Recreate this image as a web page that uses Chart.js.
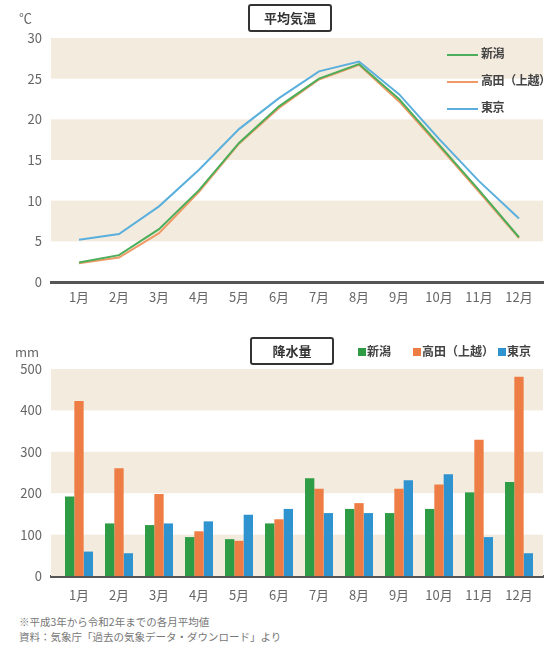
<!DOCTYPE html>
<html lang="ja">
<head>
<meta charset="utf-8">
<script src="https://cdn.jsdelivr.net/npm/chart.js@4/dist/chart.umd.min.js"></script>
<style>
  html, body { margin: 0; padding: 0; background: #fff; }
  body { width: 545px; height: 649px; position: relative; overflow: hidden;
         font-family: "Noto Sans CJK JP", "Noto Sans", sans-serif; color: #555; }
  .abs { position: absolute; }
  #c1 { position: absolute; left: 0; top: 0; }
  #c2 { position: absolute; left: 0; top: 318px; }
  .unit { font-size: 13px; color: #666; }
  .tbox { border: 2px solid #333; border-radius: 3px; box-sizing: border-box;
          width: 84px; height: 28px; line-height: 24px; text-align: center;
          font-size: 13px; font-weight: bold; color: #333; }
  .lg1 { font-size: 12px; font-weight: bold; color: #444; height: 16px; line-height: 16px; white-space: nowrap; letter-spacing: -0.4px; }
  .lg1 .ln { display: inline-block; width: 31px; height: 2px; vertical-align: middle; margin-right: 3px; }
  .lg2 { font-size: 12px; font-weight: bold; color: #444; white-space: nowrap; line-height: 16px; }
  .lg2 .sq { display: inline-block; width: 8px; height: 8px; margin-right: 1px; }
  .fn { font-size: 10.5px; color: #777; white-space: nowrap; }
</style>
</head>
<body>
<canvas id="c1" width="545" height="310"></canvas>
<canvas id="c2" width="545" height="292"></canvas>

<div class="abs unit" style="left:19px; top:8px;">℃</div>
<div class="abs tbox" style="left:248px; top:4px;">平均気温</div>
<div class="abs lg1" style="left:447px; top:45px;"><span class="ln" style="background:#4cae5a"></span>新潟</div>
<div class="abs lg1" style="left:447px; top:72px;"><span class="ln" style="background:#ef9a66"></span>高田（上越）</div>
<div class="abs lg1" style="left:447px; top:99px;"><span class="ln" style="background:#5aafdc"></span>東京</div>

<div class="abs unit" style="left:15px; top:342px;">mm</div>
<div class="abs tbox" style="left:250px; top:337px;">降水量</div>
<div class="abs lg2" style="left:358px; top:343px;"><span class="sq" style="background:#2e9b45"></span>新潟</div>
<div class="abs lg2" style="left:413px; top:343px;"><span class="sq" style="background:#ee7d45"></span>高田（上越）</div>
<div class="abs lg2" style="left:498px; top:343px;"><span class="sq" style="background:#2f93d0"></span>東京</div>

<div class="abs fn" style="left:19px; top:614px;">※平成3年から令和2年までの各月平均値</div>
<div class="abs fn" style="left:19px; top:629px;">資料：気象庁「過去の気象データ・ダウンロード」より</div>

<script>
const months = ["1月","2月","3月","4月","5月","6月","7月","8月","9月","10月","11月","12月"];
const seriesNames = ["新潟", "高田（上越）", "東京"];

const tempNiigata = [2.4, 3.3, 6.5, 11.3, 17.1, 21.6, 25.0, 26.8, 22.5, 16.9, 11.3, 5.5];
const tempTakada  = [2.3, 3.0, 6.0, 11.1, 17.0, 21.4, 24.9, 26.7, 22.2, 16.7, 11.1, 5.4];
const tempTokyo   = [5.2, 5.9, 9.3, 13.8, 18.8, 22.6, 25.9, 27.1, 23.1, 17.6, 12.4, 7.8];

const precNiigata = [192, 127, 123, 94, 89, 127, 236, 162, 152, 162, 202, 227];
const precTakada  = [423, 260, 198, 108, 85, 137, 211, 176, 211, 221, 329, 481];
const precTokyo   = [59, 55, 127, 132, 148, 162, 152, 152, 231, 246, 94, 55];

const tempTicks = [0, 5, 10, 15, 20, 25, 30];
const precTicks = [0, 100, 200, 300, 400, 500];

const FONT = '"Noto Sans CJK JP", "Noto Sans", sans-serif';
const toXY = arr => arr.map((v, i) => ({x: i, y: v}));

function bandPlugin(bands) {
  return {
    id: 'bands',
    beforeDatasetsDraw(chart) {
      const {ctx, chartArea, scales} = chart;
      ctx.save();
      ctx.fillStyle = '#f4ebdf';
      bands.forEach(([a, b]) => {
        const y1 = scales.y.getPixelForValue(b);
        const y0 = scales.y.getPixelForValue(a);
        ctx.fillRect(chartArea.left, y1, chartArea.right - chartArea.left, y0 - y1);
      });
      ctx.restore();
    }
  };
}

function xScale(pad, h) {
  return {
    type: 'linear', min: -0.7, max: 11.6, offset: false,
    afterBuildTicks: s => { s.ticks = months.map((_, i) => ({value: i})); },
    afterFit: s => { s.height = h; },
    grid: { display: false, drawTicks: false, offset: false },
    border: { display: true, color: '#555', width: 3 },
    ticks: { autoSkip: false, maxRotation: 0, padding: pad, color: '#666',
             font: { family: FONT, size: 13 },
             callback: v => months[v] }
  };
}
function yScale(max, step, ticks) {
  return {
    min: 0, max: max,
    afterBuildTicks: s => { s.ticks = ticks.map(v => ({value: v})); },
    afterFit: s => { s.width = 51; },
    grid: { display: false, drawTicks: false },
    border: { display: false },
    ticks: { padding: 9, color: '#666', font: { family: FONT, size: 13 } }
  };
}

new Chart(document.getElementById('c1'), {
  type: 'line',
  data: {
    datasets: [
      { label: seriesNames[0], data: toXY(tempNiigata), borderColor: '#4cae5a' },
      { label: seriesNames[1], data: toXY(tempTakada), borderColor: '#ef9a66' },
      { label: seriesNames[2], data: toXY(tempTokyo), borderColor: '#5aafdc' }
    ].map(d => Object.assign(d, { borderWidth: 2, pointRadius: 0, tension: 0, fill: false }))
  },
  options: {
    responsive: false, animation: false, devicePixelRatio: 1,
    layout: { padding: { top: 38, right: 2, left: 0, bottom: 0 } },
    plugins: { legend: { display: false }, tooltip: { enabled: false } },
    scales: { x: xScale(7, 28), y: yScale(30, 5, tempTicks) }
  },
  plugins: [bandPlugin([[5, 10], [15, 20], [25, 30]])]
});

new Chart(document.getElementById('c2'), {
  type: 'bar',
  data: {
    datasets: [
      { label: seriesNames[0], data: toXY(precNiigata), backgroundColor: '#2e9b45' },
      { label: seriesNames[1], data: toXY(precTakada), backgroundColor: '#ee7d45' },
      { label: seriesNames[2], data: toXY(precTokyo), backgroundColor: '#2f93d0' }
    ].map(d => Object.assign(d, { categoryPercentage: 0.7, barPercentage: 1.0, borderWidth: 0 }))
  },
  options: {
    responsive: false, animation: false, devicePixelRatio: 1,
    layout: { padding: { top: 51, right: 2, left: 0, bottom: 0 } },
    plugins: { legend: { display: false }, tooltip: { enabled: false } },
    scales: { x: xScale(11, 34), y: yScale(500, 100, precTicks) }
  },
  plugins: [bandPlugin([[0, 100], [200, 300], [400, 500]])]
});
</script>
</body>
</html>
